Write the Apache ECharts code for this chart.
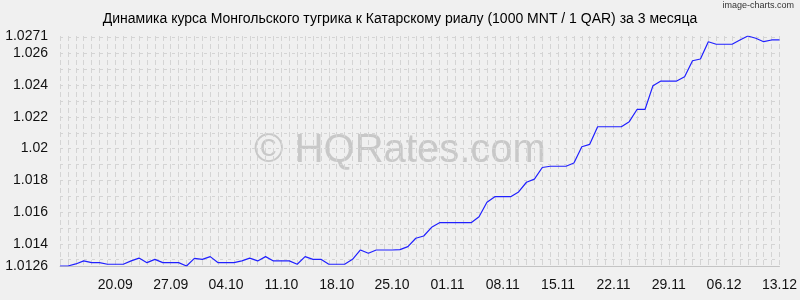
<!DOCTYPE html>
<html>
<head>
<meta charset="utf-8">
<script src="https://cdn.jsdelivr.net/npm/echarts@6/dist/echarts.min.js"></script>
<style>
html,body{margin:0;padding:0;background:#f0f0f0;}
#chart{width:800px;height:300px;}
</style>
</head>
<body>
<div id="chart"></div>
<script>
const titleText = 'Динамика курса Монгольского тугрика к Катарскому риалу (1000 MNT / 1 QAR) за 3 месяца';

const dates = [
  '13.09','14.09','15.09','16.09','17.09','18.09','19.09','20.09','21.09','22.09',
  '23.09','24.09','25.09','26.09','27.09','28.09','29.09','30.09',
  '01.10','02.10','03.10','04.10','05.10','06.10','07.10','08.10','09.10','10.10',
  '11.10','12.10','13.10','14.10','15.10','16.10','17.10','18.10','19.10','20.10',
  '21.10','22.10','23.10','24.10','25.10','26.10','27.10','28.10','29.10','30.10','31.10',
  '01.11','02.11','03.11','04.11','05.11','06.11','07.11','08.11','09.11','10.11',
  '11.11','12.11','13.11','14.11','15.11','16.11','17.11','18.11','19.11','20.11',
  '21.11','22.11','23.11','24.11','25.11','26.11','27.11','28.11','29.11','30.11',
  '01.12','02.12','03.12','04.12','05.12','06.12','07.12','08.12','09.12','10.12',
  '11.12','12.12','13.12'
];

const rates = [
  1.0126, 1.0126, 1.01273, 1.01292, 1.01281, 1.01281, 1.01271, 1.01271, 1.01271, 1.01292,
  1.0131, 1.01281, 1.01302, 1.01281, 1.01281, 1.01281, 1.0126, 1.01308, 1.01302, 1.01319,
  1.01281, 1.01281, 1.01281, 1.01292, 1.0131, 1.01292, 1.01319, 1.01292, 1.01292, 1.01292,
  1.01271, 1.01319, 1.01302, 1.01302, 1.01271, 1.01271, 1.01271, 1.01302, 1.01361, 1.0134,
  1.01361, 1.01361, 1.01361, 1.01363, 1.01382, 1.01435, 1.01449, 1.01504, 1.01533, 1.01533,
  1.01533, 1.01533, 1.01533, 1.01571, 1.01662, 1.01697, 1.01697, 1.01697, 1.01727, 1.01788,
  1.01808, 1.01881, 1.01889, 1.01889, 1.01889, 1.01909, 1.02012, 1.02027, 1.02138, 1.02138,
  1.02138, 1.02138, 1.0217, 1.02248, 1.02248, 1.02397, 1.02426, 1.02426, 1.02426, 1.02453,
  1.02554, 1.02565, 1.02674, 1.02658, 1.02658, 1.02658, 1.02685, 1.0271, 1.02696, 1.02674,
  1.02685, 1.02685
];

const xTickLabels = ['20.09','27.09','04.10','11.10','18.10','25.10','01.11','08.11','15.11','22.11','29.11','06.12','13.12'];
const yTickLabels = [1.0126, 1.014, 1.016, 1.018, 1.02, 1.022, 1.024, 1.026, 1.0271];
const yGridValues = [1.013, 1.014, 1.015, 1.016, 1.017, 1.018, 1.019, 1.02, 1.021, 1.022, 1.023, 1.024, 1.025, 1.026, 1.027];
const yMin = 1.0126, yMax = 1.0271;

const FONT = '"Liberation Sans", Arial, sans-serif';
const chart = echarts.init(document.getElementById('chart'), null, {renderer: 'canvas'});
chart.setOption({
  animation: false,
  backgroundColor: '#f0f0f0',
  title: {
    text: titleText,
    left: 'center',
    top: 12,
    padding: 0,
    textStyle: {fontFamily: FONT, fontSize: 14, fontWeight: 'normal', color: '#000'}
  },
  graphic: [
    {
      type: 'text', z: -10, silent: true,
      style: {
        text: '© HQRates.com', x: 400, y: 151, textAlign: 'center', textVerticalAlign: 'middle',
        font: '40px "Liberation Sans", Arial, sans-serif', fill: '#c8c8c8'
      }
    },
    {
      type: 'text', silent: true,
      style: {
        text: 'image-charts.com', x: 794, y: 1, textAlign: 'right', textVerticalAlign: 'top',
        font: '9px "Liberation Sans", Arial, sans-serif', fill: '#333'
      }
    }
  ],
  grid: {left: 60, right: 20, top: 36, bottom: 34, containLabel: false},
  xAxis: {
    type: 'category',
    data: dates,
    boundaryGap: false,
    axisLine: {show: true, lineStyle: {color: '#c4c4c4', width: 1}},
    axisTick: {show: false},
    axisLabel: {
      interval: function (idx, val) { return xTickLabels.indexOf(val) >= 0; },
      margin: 12,
      fontFamily: FONT, fontSize: 14, color: '#111'
    },
    splitLine: {show: true, interval: 0, lineStyle: {color: '#d4d4d4', type: [5, 3], width: 1}}
  },
  yAxis: {
    type: 'value',
    min: yMin,
    max: yMax,
    axisLine: {show: false},
    axisTick: {show: false, customValues: yGridValues},
    axisLabel: {
      customValues: yTickLabels,
      margin: 12,
      fontFamily: FONT, fontSize: 14, color: '#111',
      formatter: function (v) { return String(+v.toFixed(4)); }
    },
    splitLine: {show: true, lineStyle: {color: '#d4d4d4', type: [3, 5], width: 1}}
  },
  series: [{
    type: 'line',
    data: rates,
    showSymbol: false,
    symbol: 'none',
    lineStyle: {color: '#2020ff', width: 1.2},
    z: 5
  }]
});
</script>
</body>
</html>
